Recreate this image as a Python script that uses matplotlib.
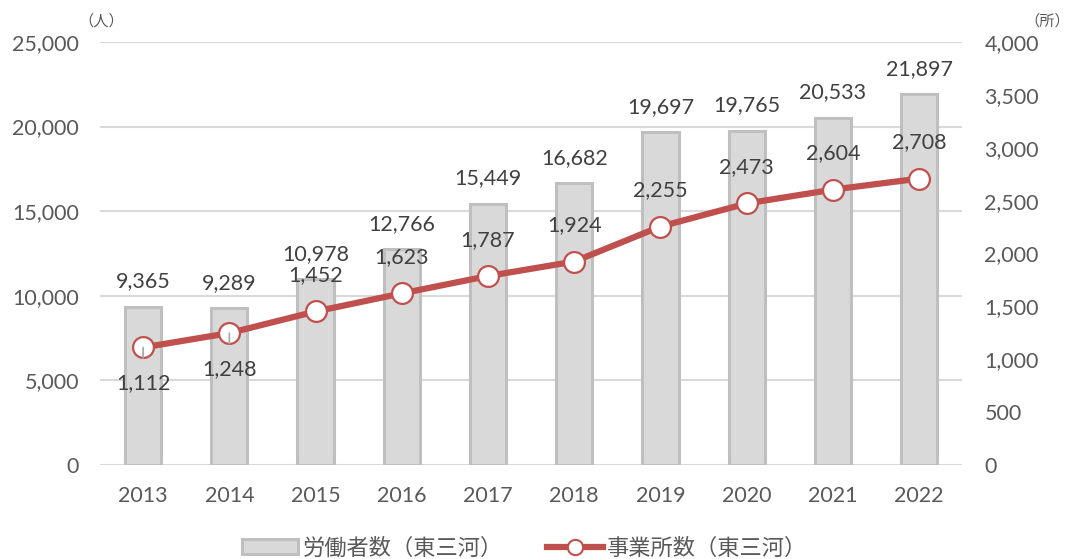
import matplotlib
matplotlib.use("Agg")
import matplotlib.pyplot as plt
from matplotlib.ticker import FuncFormatter, MultipleLocator
from matplotlib.patches import Patch
from matplotlib.lines import Line2D

plt.rcParams['font.family'] = ['Lato', 'Noto Sans CJK JP', 'DejaVu Sans']

years = ["2013", "2014", "2015", "2016", "2017", "2018", "2019", "2020", "2021", "2022"]
workers = [9365, 9289, 10978, 12766, 15449, 16682, 19697, 19765, 20533, 21897]
offices = [1112, 1248, 1452, 1623, 1787, 1924, 2255, 2473, 2604, 2708]
labels_below = ["2013", "2014"]

bar_name = "労働者数（東三河）"
line_name = "事業所数（東三河）"

TXT = "#404040"
TICK = "#595959"
RED = "#C0504D"
FS = 15.5

fig = plt.figure(figsize=(10.71, 5.59), dpi=100)
ax = fig.add_axes([0.0934, 0.168, 0.805, 0.757])
ax2 = ax.twinx()

x = list(range(len(years)))
ax.bar(x, workers, width=0.42, color="#D9D9D9", edgecolor="#BFBFBF", linewidth=2.2, zorder=2)
ax.set_ylim(0, 25000)
ax.set_xlim(-0.5, len(years) - 0.5)
ax.yaxis.set_major_locator(MultipleLocator(5000))
ax.yaxis.set_major_formatter(FuncFormatter(lambda v, p: f"{int(v):,}"))
ax.grid(axis="y", color="#D9D9D9", linewidth=1.5, zorder=0)
ax.set_axisbelow(True)
ax.set_xticks(x)
ax.set_xticklabels(years)

ax2.plot(x, offices, color=RED, linewidth=4.5, marker="o", markersize=15,
         markerfacecolor="white", markeredgecolor=RED, markeredgewidth=1.6, zorder=3)
ax2.set_ylim(0, 4000)
ax2.yaxis.set_major_locator(MultipleLocator(500))
ax2.yaxis.set_major_formatter(FuncFormatter(lambda v, p: f"{int(v):,}"))

for a in (ax, ax2):
    for s in a.spines.values():
        s.set_visible(False)
    a.tick_params(length=0, labelsize=FS, labelcolor=TICK)
ax.tick_params(axis="y", pad=15)
ax2.tick_params(axis="y", pad=16)
ax.tick_params(axis="x", pad=15)

for xi, v in zip(x, workers):
    ax.annotate(f"{v:,}", (xi, v), xytext=(0, 18), textcoords="offset points",
                ha="center", va="center", fontsize=FS, color=TXT)

for xi, yr, v in zip(x, years, offices):
    if yr in labels_below:
        ax2.annotate(f"{v:,}", (xi, v), xytext=(0, -26), textcoords="offset points",
                     ha="center", va="center", fontsize=FS, color=TXT, zorder=4,
                     arrowprops=dict(arrowstyle="-", color="#A6A6A6", lw=1.2,
                                     shrinkA=9, shrinkB=0))
    else:
        ax2.annotate(f"{v:,}", (xi, v), xytext=(0, 26), textcoords="offset points",
                     ha="center", va="center", fontsize=FS, color=TXT, zorder=4)

fig.text(0.073, 0.962, "（人）", fontsize=11, color=TICK, ha="left", va="center")
fig.text(0.999, 0.962, "（所）", fontsize=11, color=TICK, ha="right", va="center")

handles = [Patch(facecolor="#D9D9D9", edgecolor="#BFBFBF", linewidth=2.2),
           Line2D([0], [0], color=RED, linewidth=4.5, marker="o", markersize=11,
                  markerfacecolor="white", markeredgecolor=RED, markeredgewidth=1.5)]
fig.legend(handles, [bar_name, line_name], loc="center", bbox_to_anchor=(0.49, 0.02),
           ncol=2, frameon=False, fontsize=16, labelcolor=TICK, handlelength=2.5,
           handletextpad=0.2, columnspacing=2.0)

fig.savefig("out.png", dpi=100)
